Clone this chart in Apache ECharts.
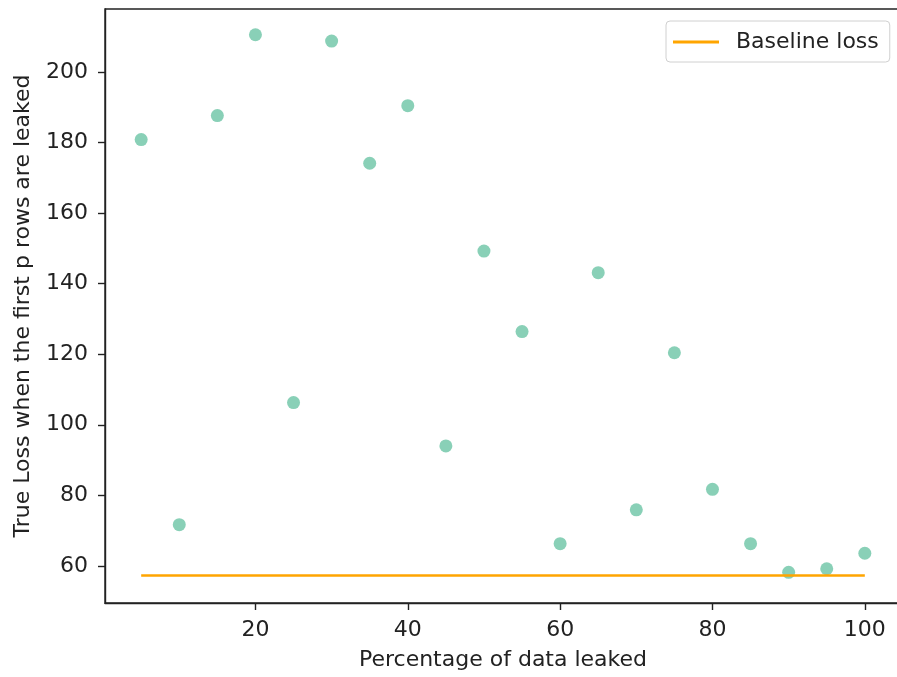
<!DOCTYPE html>
<html>
<head>
<meta charset="utf-8">
<script src="https://cdn.jsdelivr.net/npm/echarts@6/dist/echarts.min.js"></script>
<style>
  html, body { margin: 0; padding: 0; background: #fff; }
  #main { width: 897px; height: 677px; }
</style>
</head>
<body>
<div id="main"></div>
<script>
var pct = [5, 10, 15, 20, 25, 30, 35, 40, 45, 50, 55, 60, 65, 70, 75, 80, 85, 90, 95, 100];
var loss = [180.8, 71.7, 187.6, 210.5, 106.3, 208.7, 174.1, 190.4, 94.0, 149.2,
            126.4, 66.3, 143.1, 75.9, 120.4, 81.7, 66.3, 58.2, 59.2, 63.6];
var baselineX = [5, 100];
var baselineLoss = 57.3;
var xTicks = [20, 40, 60, 80, 100];
var yTicks = [60, 80, 100, 120, 140, 160, 180, 200];

var font = 'DejaVu Sans';
var ink = '#222';
var fs = 22;

var myChart = echarts.init(document.getElementById('main'));

var points = pct.map(function (p, i) { return [p, loss[i]]; });
var base = baselineX.map(function (p) { return [p, baselineLoss]; });

var option = {
    animation: false,
    backgroundColor: '#fff',
    grid: {
        left: 105, top: 9, width: 796, height: 594,
        containLabel: false,
        outerBoundsMode: 'none',
        show: true,
        borderColor: ink,
        borderWidth: 1.4
    },
    legend: {
        left: 666, top: 21,
        padding: [10, 11, 9, 7],
        backgroundColor: 'rgba(255,255,255,0.8)',
        borderColor: '#d0d0d0',
        borderWidth: 1,
        borderRadius: 4,
        itemWidth: 46,
        itemHeight: 3,
        data: [{ name: 'Baseline loss', icon: 'rect' }],
        textStyle: {
            fontFamily: font, fontSize: fs, color: ink,
            lineHeight: 21, padding: [0, 0, 0, 12]
        }
    },
    xAxis: {
        type: 'value',
        min: 0.25, max: 104.75,
        name: 'Percentage of data leaked',
        nameLocation: 'middle',
        nameGap: 46,
        nameTextStyle: { fontFamily: font, fontSize: fs, color: ink },
        splitLine: { show: false },
        axisLine: { show: true, lineStyle: { color: ink, width: 1.4 } },
        axisTick: { show: true, length: 7, customValues: xTicks, lineStyle: { color: ink, width: 1.4 } },
        axisLabel: { customValues: xTicks, margin: 16, fontFamily: font, fontSize: fs, color: ink }
    },
    yAxis: {
        type: 'value',
        min: 49.5, max: 217.8,
        name: 'True Loss when the first p rows are leaked',
        nameLocation: 'middle',
        nameGap: 71,
        nameTextStyle: { fontFamily: font, fontSize: fs, color: ink },
        splitLine: { show: false },
        axisLine: { show: true, lineStyle: { color: ink, width: 1.4 } },
        axisTick: { show: true, length: 7, customValues: yTicks, lineStyle: { color: ink, width: 1.4 } },
        axisLabel: { customValues: yTicks, margin: 17, fontFamily: font, fontSize: fs, color: ink }
    },
    series: [{
        type: 'scatter',
        data: points,
        symbolSize: 13,
        z: 2,
        itemStyle: { color: '#6cc4a5' }
    }, {
        name: 'Baseline loss',
        type: 'line',
        data: base,
        showSymbol: false,
        symbol: 'none',
        z: 3,
        lineStyle: { color: '#ffa500', width: 2.6 },
        itemStyle: { color: '#ffa500' }
    }]
};

myChart.setOption(option);
</script>
</body>
</html>
